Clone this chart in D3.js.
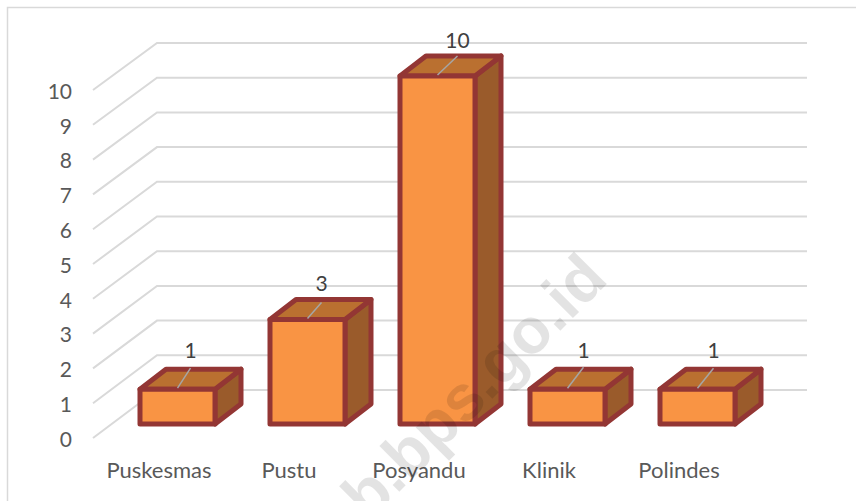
<!DOCTYPE html>
<meta charset="utf-8">
<style>
  body { margin: 0; background: #fff; }
  text { font-family: Lato, "Open Sans", sans-serif; }
</style>
<script src="https://d3js.org/d3.v7.min.js"></script>
<div id="chart"></div>
<script>
var categories = ["Puskesmas", "Pustu", "Posyandu", "Klinik", "Polindes"];
var values = [1, 3, 10, 1, 1];
var yTicks = [0, 1, 2, 3, 4, 5, 6, 7, 8, 9, 10];

var width = 856, height = 501;
var depthX = 26, depthY = -20;

var svg = d3.select("#chart").append("svg")
  .attr("width", width)
  .attr("height", height)
  .style("display", "block");

// outer frame, only top and left show in the picture
svg.append("path")
  .attr("d", "M7.5,501V7.5H856")
  .attr("fill", "none")
  .attr("stroke", "#d9d9d9")
  .attr("stroke-width", 1.5);

var x = d3.scaleBand().domain(categories).range([140, 735]).paddingInner(55 / 130).paddingOuter(0);
var xLabel = d3.scaleBand().domain(categories).range([94, 744]);

var yFront = d3.scaleLinear().domain([0, 10]).range([424, 76]);  // bar front plane
var yLeft = d3.scaleLinear().domain([0, 10]).range([438, 90]);   // wall start
var yBack = d3.scaleLinear().domain([0, 10]).range([390, 43]);   // back wall
var yValue = d3.scaleLinear().domain([1, 3, 10]).range([350.5, 284, 40.5]); // value labels

// the labels were dragged by hand in the original, so each leader differs a bit
var leaderDx = d3.scaleOrdinal().domain(categories).range([13, 14, 20, 16, 16]);
var leaderDy = d3.scaleOrdinal().domain(categories).range([20, 16, 19, 21, 20]);

// gridlines
svg.append("g").selectAll("path")
  .data(yTicks)
  .enter().append("path")
    .attr("d", d => "M93," + yLeft(d) + "L157," + yBack(d) + "H807")
    .attr("fill", "none")
    .attr("stroke", "#d9d9d9")
    .attr("stroke-width", 2);

// y labels
var yAxis = svg.append("g")
  .attr("transform", "translate(72,1.5)")
  .call(d3.axisLeft(yLeft).tickValues(yTicks).tickSize(0).tickPadding(0).tickFormat(d3.format("d")));
yAxis.select(".domain").remove();
yAxis.selectAll("text")
  .style("font-family", "Lato, sans-serif")
  .style("font-size", "21px")
  .attr("fill", "#595959");

// x labels
var xAxis = svg.append("g")
  .attr("transform", "translate(0,470)")
  .call(d3.axisBottom(xLabel).tickSize(0).tickPadding(0));
xAxis.select(".domain").remove();
xAxis.selectAll("text")
  .attr("dy", "0.35em")
  .attr("y", 0)
  .style("font-family", "Lato, sans-serif")
  .style("font-size", "22px")
  .attr("fill", "#595959");

var bars = svg.append("g").selectAll("g")
  .data(categories.map((c, i) => ({name: c, value: values[i]})))
  .enter().append("g");

var stroke = "#933634";

// side
bars.append("path")
  .attr("d", d => {
    var r = x(d.name) + x.bandwidth(), t = yFront(d.value), b = yFront(0);
    return "M" + r + "," + t + "l" + depthX + "," + depthY + "V" + (b + depthY) + "L" + r + "," + b + "Z";
  })
  .attr("fill", "#9a5b2b")
  .attr("stroke", stroke).attr("stroke-width", 5).attr("stroke-linejoin", "round");

// top
bars.append("path")
  .attr("d", d => {
    var l = x(d.name), r = l + x.bandwidth(), t = yFront(d.value);
    return "M" + l + "," + t + "l" + depthX + "," + depthY + "H" + (r + depthX) + "L" + r + "," + t + "Z";
  })
  .attr("fill", "#ba7030")
  .attr("stroke", stroke).attr("stroke-width", 5).attr("stroke-linejoin", "round");

// front
bars.append("rect")
  .attr("x", d => x(d.name))
  .attr("y", d => yFront(d.value))
  .attr("width", x.bandwidth())
  .attr("height", d => yFront(0) - yFront(d.value))
  .attr("fill", "#f99444")
  .attr("stroke", stroke).attr("stroke-width", 5).attr("stroke-linejoin", "round");

// leader lines up to the value labels
bars.append("line")
  .attr("x1", d => x(d.name) + x.bandwidth() / 2)
  .attr("y1", d => yFront(d.value) - 1)
  .attr("x2", d => x(d.name) + x.bandwidth() / 2 + leaderDx(d.name))
  .attr("y2", d => yFront(d.value) - 1 - leaderDy(d.name))
  .attr("stroke", "#a6a6a6")
  .attr("stroke-width", 1.5);

bars.append("text")
  .attr("x", d => x(d.name) + x.bandwidth() / 2 + leaderDx(d.name))
  .attr("y", d => yValue(d.value))
  .attr("dy", "0.35em")
  .attr("text-anchor", "middle")
  .attr("font-size", 21)
  .attr("fill", "#404040")
  .text(d => d.value);

// watermark sits over the bars
svg.append("text")
  .attr("transform", "translate(610,281) rotate(-45)")
  .attr("text-anchor", "end")
  .style("font-family", "'Liberation Sans', sans-serif")
  .style("font-weight", "bold")
  .style("font-size", "64px")
  .attr("fill", "#000")
  .attr("fill-opacity", 0.11)
  .text("b.bps.go.id");
</script>
